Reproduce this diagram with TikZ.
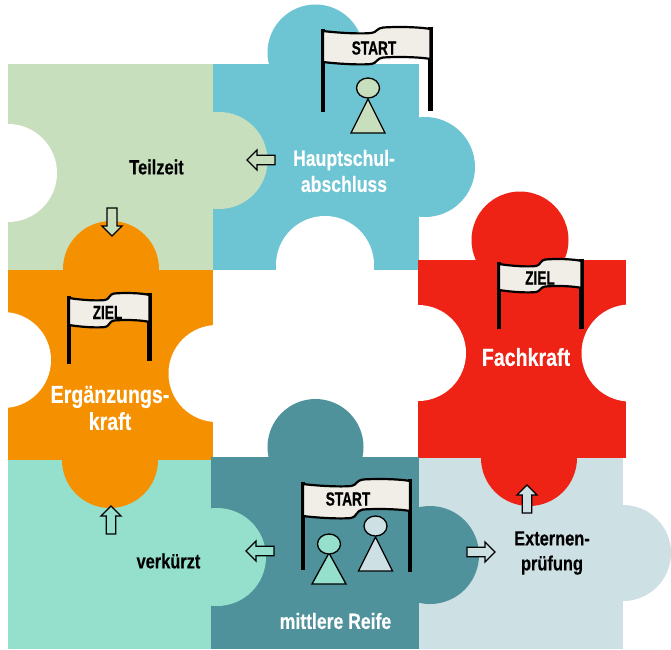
\documentclass[tikz,border=0pt]{standalone}
\usepackage{fontspec}
\setmainfont[FakeStretch=0.8,FakeBold=0.25]{Liberation Sans}
\newfontfamily\flagfont[FakeStretch=0.72,FakeBold=0.6]{Liberation Sans}
\definecolor{cgreen}{HTML}{C8DFBE}
\definecolor{cteal}{HTML}{6DC5D3}
\definecolor{cred}{HTML}{EE2316}
\definecolor{corange}{HTML}{F59100}
\definecolor{cmint}{HTML}{94E0CD}
\definecolor{cdark}{HTML}{4F929C}
\definecolor{cblue}{HTML}{CDE0E4}
\definecolor{cflag}{HTML}{F1EEE7}
\tikzset{
 lblw/.style={font=\bfseries\fontsize{22}{26}\selectfont,text=white,align=center,inner sep=0pt},
 lblb/.style={font=\bfseries\fontsize{24.5}{27}\selectfont,text=white,align=center,inner sep=0pt},
 lblk/.style={font=\bfseries\fontsize{20.5}{25}\selectfont,text=black,align=center,inner sep=0pt},
 flagtxt/.style={font=\flagfont\bfseries\fontsize{19}{19}\selectfont,text=black,inner sep=0pt},
 post/.style={line width=4.4pt,draw=black},
 banner/.style={line width=2.2pt,draw=black,fill=cflag,line join=round},
 fig/.style={line width=1.3pt,draw=black,line join=miter},
 arr/.style={line width=1.3pt,draw=black,line join=miter},
}
% \flagpic{x1}{x2}{ytopL}{ytopR}{ybotL}{ybotR}{yendL}{yendR}
\newcommand{\flagpic}[8]{%
 \draw[post] (#1,#3-2.5) -- (#1,#7);
 \draw[post] (#2,#4-2.5) -- (#2,#8);
 \path[banner] (#1,#3)
   .. controls ({#1+(#2-#1)*.15},#3+2) and ({#1+(#2-#1)*.35},#3+3) .. ({#1+(#2-#1)*.45},#3+2)
   .. controls ({#1+(#2-#1)*.5},#3+1.5) and ({#1+(#2-#1)*.5},#4-1) .. ({#1+(#2-#1)*.56},#4-1.5)
   .. controls ({#1+(#2-#1)*.7},#4-2.5) and ({#1+(#2-#1)*.9},#4-2) .. (#2,#4)
   -- (#2,#6)
   .. controls ({#1+(#2-#1)*.9},#6-2) and ({#1+(#2-#1)*.7},#6-2.5) .. ({#1+(#2-#1)*.56},#6-1.5)
   .. controls ({#1+(#2-#1)*.5},#6-1) and ({#1+(#2-#1)*.5},#5+1.5) .. ({#1+(#2-#1)*.45},#5+2)
   .. controls ({#1+(#2-#1)*.35},#5+3) and ({#1+(#2-#1)*.15},#5+2) .. (#1,#5) -- cycle;
}
% \personpic{x}{ycirc}{yapex}{ybase}{color}
\newcommand{\personpic}[5]{%
 \draw[fig,fill=#5] (#1,#3) -- (#1-17,#4) -- (#1+17,#4) -- cycle;
 \draw[fig,fill=#5] (#1,#2) ellipse (11.5 and 10);
}
% arrows: tip at (x,y), direction
\newcommand{\arrowL}[3]{\draw[arr,fill=#3] (#1,#2) -- (#1+10,#2-10) -- (#1+10,#2-4.7) -- (#1+28,#2-4.7) -- (#1+28,#2+4.7) -- (#1+10,#2+4.7) -- (#1+10,#2+10) -- cycle;}
\newcommand{\arrowR}[3]{\draw[arr,fill=#3] (#1,#2) -- (#1-10,#2-10) -- (#1-10,#2-4.7) -- (#1-28,#2-4.7) -- (#1-28,#2+4.7) -- (#1-10,#2+4.7) -- (#1-10,#2+10) -- cycle;}
\newcommand{\arrowU}[3]{\draw[arr,fill=#3] (#1,#2) -- (#1-10,#2+10) -- (#1-4.7,#2+10) -- (#1-4.7,#2+28) -- (#1+4.7,#2+28) -- (#1+4.7,#2+10) -- (#1+10,#2+10) -- cycle;}
\newcommand{\arrowD}[3]{\draw[arr,fill=#3] (#1,#2) -- (#1-10,#2-10) -- (#1-5,#2-10) -- (#1-5,#2-28) -- (#1+5,#2-28) -- (#1+5,#2-10) -- (#1+10,#2-10) -- cycle;}
\begin{document}
\begin{tikzpicture}[x=1pt,y=-1pt]
\useasboundingbox (0,0) rectangle (671,649);
\fill[white] (0,0) rectangle (671,649);
% teal piece (Hauptschulabschluss)
\fill[cteal] (213,64) rectangle (419,270);
\fill[cteal] (315.5,52.5) circle (48);
\fill[cteal] (425,167) circle (50);
\fill[white] (325,265) circle (49);
\fill[white] (276,270) rectangle (374,280);
% green piece (Teilzeit)
\fill[cgreen] (8,64) rectangle (213,270);
\fill[cgreen] (219,160.5) circle (48.5);
\fill[white] (8,173) circle (49);
\fill[white] (0,120) rectangle (8,225);
% orange piece (Ergaenzungskraft)
\fill[corange] (8,270) rectangle (213,460);
\fill[corange] (111,269) circle (48);
\fill[white] (3,360) circle (48);
\fill[white] (0,305) rectangle (8,415);
\fill[white] (217,373.5) circle (48.5);
% red piece (Fachkraft)
\fill[cred] (418,260) rectangle (626,458);
\fill[cred] (520,240) circle (48.5);
\fill[white] (418,353) circle (48);
\fill[white] (630,353) circle (48.5);
% light blue piece
\fill[cblue] (419,458) rectangle (623,649);
\fill[cblue] (623,553) circle (48);
\fill[cred] (529,458) circle (48);
% dark teal piece
\fill[cdark] (315.5,447) circle (48);
\fill[cdark] (211,457) rectangle (419,649);
\fill[cdark] (430,555) circle (49);
% mint piece
\fill[cmint] (8,460) rectangle (211,649);
\fill[cmint] (217,557) circle (49);
\fill[corange] (110,460) circle (48);
% flags
\flagpic{323}{430.5}{31}{29}{62}{59}{112}{111}
\node[flagtxt] (t1) at (374,48) {START};
\personpic{368}{88}{99}{133}{cgreen}
\flagpic{303}{410}{484}{481}{516}{511}{570}{572}
\node[flagtxt] (t2) at (348,499) {START};
\personpic{329}{544}{553}{584}{cmint}
\personpic{375.5}{526}{537}{571}{cblue}
\flagpic{69}{149.5}{298}{295}{325}{322}{364}{361}
\node[flagtxt] (t3) at (107.5,312.5) {ZIEL};
\flagpic{499}{581.5}{264}{261}{290}{288}{329}{329}
\node[flagtxt] (t4) at (540,278) {ZIEL};
% labels
\node[lblw] (n1) at (344,171) {Hauptschul-\\abschluss};
\node[lblk] (n2) at (156.5,167) {Teilzeit};
\node[lblb] (n3) at (110,408) {Ergänzungs-\\kraft};
\node[lblb] (n4) at (526,357) {Fachkraft};
\node[lblk] (n5) at (168.5,561) {verkürzt};
\node[lblw] (n6) at (335.5,621) {mittlere Reife};
\node[lblk] (n7) at (552,553) {Externen-\\prüfung};
% arrows
\arrowL{247}{160}{cgreen}
\arrowD{112}{236}{cgreen}
\arrowU{111}{506}{cmint}
\arrowL{246}{551}{cmint}
\arrowR{495}{552}{cblue}
\arrowU{527}{485}{cblue}
\end{tikzpicture}
\end{document}
